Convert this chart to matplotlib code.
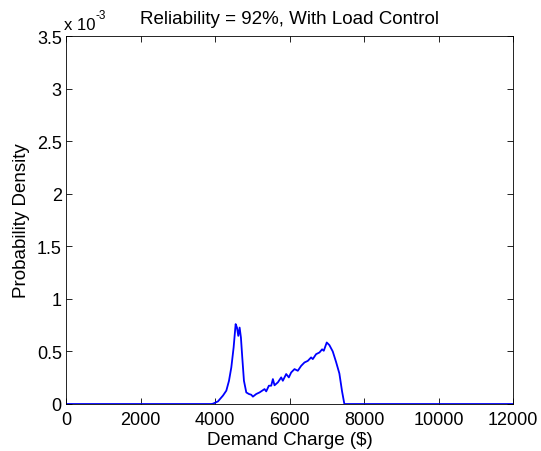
import matplotlib
matplotlib.use("Agg")
import matplotlib.pyplot as plt

plt.rcParams['font.family'] = ['Liberation Sans', 'DejaVu Sans']

# Demand charge ($) and probability density (x 1e-3)
demand = [0, 3900, 3946, 4080, 4214, 4304, 4375, 4438, 4500, 4554, 4590, 4625, 4661,
          4696, 4732, 4777, 4840, 4911, 4973, 5018, 5107, 5196, 5268, 5330, 5375,
          5446, 5509, 5554, 5598, 5688, 5777, 5821, 5911, 5982, 6045, 6134, 6223,
          6313, 6402, 6491, 6580, 6625, 6714, 6804, 6875, 6920, 7000, 7071, 7161,
          7250, 7339, 7411, 7473, 12000]
density = [0, 0, 0.003, 0.025, 0.08, 0.127, 0.22, 0.348, 0.538, 0.76, 0.727, 0.648, 0.727,
           0.632, 0.443, 0.221, 0.11, 0.095, 0.088, 0.07, 0.095, 0.11, 0.127, 0.142, 0.12,
           0.174, 0.174, 0.237, 0.178, 0.206, 0.253, 0.221, 0.285, 0.253, 0.30, 0.332, 0.316,
           0.363, 0.395, 0.41, 0.443, 0.427, 0.474, 0.49, 0.52, 0.506, 0.585, 0.56, 0.50,
           0.40, 0.29, 0.12, 0.0, 0]

xticks = [0, 2000, 4000, 6000, 8000, 10000, 12000]
yticks = [0, 0.5, 1, 1.5, 2, 2.5, 3, 3.5]
ytick_labels = ['0', '0.5', '1', '1.5', '2', '2.5', '3', '3.5']

fig = plt.figure(figsize=(5.41, 4.52), dpi=100)
ax = fig.add_axes([66/541, 47/452, 447/541, 368/452])
ax.plot(demand, density, color='#0000ff', lw=1.3)
ax.set_xlim(0, 12000)
ax.set_ylim(0, 3.5)
ax.set_xticks(xticks)
ax.set_xticklabels([str(v) for v in xticks])
ax.set_yticks(yticks)
ax.set_yticklabels(ytick_labels)
ax.tick_params(direction='in', top=True, right=True, labelsize=13, length=4, width=0.6,
               colors='black')
ax.tick_params(axis='x', pad=5)
ax.tick_params(axis='y', pad=3)
for s in ax.spines.values():
    s.set_linewidth(0.6)
ax.set_xlabel('Demand Charge ($)', fontsize=13.5, labelpad=2)
ax.set_ylabel('Probability Density', fontsize=13.5, labelpad=5)
ax.set_title('Reliability = 92%, With Load Control', fontsize=13.5, pad=9)
fig.text(64/541, 1 - 30/452, 'x 10', fontsize=12, ha='left', va='baseline')
fig.text(96/541, 1 - 19/452, '-3', fontsize=8.5, ha='left', va='baseline')
fig.savefig('out.png', dpi=100)
